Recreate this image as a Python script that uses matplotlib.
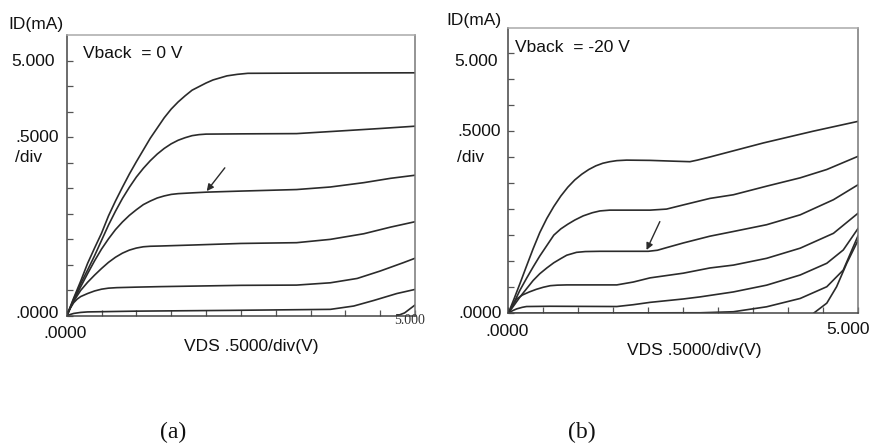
import numpy as np
import matplotlib
matplotlib.use("Agg")
import matplotlib.pyplot as plt

plt.rcParams['font.family'] = ['Liberation Sans', 'DejaVu Sans']

W, H = 872, 445

# ---------------- Panel (a): Vback = 0 V  (VDS in V, ID in mA) ----------------
a1_vds = [0, 0.1, 0.2, 0.3, 0.4, 0.5, 0.6, 0.7, 0.8, 0.9, 1.0, 1.1, 1.2, 1.3, 1.4, 1.5,
          1.6, 1.7, 1.8, 1.9, 2.0, 2.1, 2.2, 2.3, 2.45, 2.6, 3.5, 5.0]
a1_id  = [0, 0.35, 0.68, 1.03, 1.33, 1.62, 1.96, 2.25, 2.52, 2.78, 3.02, 3.25, 3.48, 3.68, 3.88, 4.05,
          4.19, 4.31, 4.42, 4.49, 4.56, 4.62, 4.66, 4.7, 4.73, 4.75, 4.755, 4.76]
a2_vds = [0, 0.1, 0.2, 0.3, 0.4, 0.5, 0.6, 0.7, 0.8, 0.9, 1.0, 1.1, 1.2, 1.3, 1.4, 1.5,
          1.6, 1.7, 1.8, 1.9, 2.0, 2.5, 3.3, 4.025, 4.5, 5.0]
a2_id  = [0, 0.33, 0.63, 0.9, 1.18, 1.48, 1.78, 2.05, 2.3, 2.52, 2.72, 2.89, 3.04, 3.17, 3.28, 3.37,
          3.44, 3.49, 3.53, 3.55, 3.56, 3.565, 3.57, 3.63, 3.67, 3.715]
a3_vds = [0, 0.1, 0.2, 0.3, 0.4, 0.5, 0.6, 0.7, 0.8, 0.9, 1.0, 1.1, 1.2, 1.3, 1.4, 1.5,
          1.6, 1.8, 2.02, 2.5, 3.3, 3.785, 4.265, 4.65, 5.0]
a3_id  = [0, 0.3, 0.57, 0.83, 1.08, 1.31, 1.51, 1.69, 1.84, 1.97, 2.08, 2.18, 2.25, 2.31, 2.35, 2.38,
          2.395, 2.41, 2.425, 2.445, 2.475, 2.525, 2.61, 2.695, 2.755]
a4_vds = [0, 0.05, 0.1, 0.2, 0.3, 0.4, 0.5, 0.6, 0.7, 0.8, 0.9, 1.0, 1.1, 1.2, 1.345,
          1.825, 2.5, 3.3, 3.785, 4.265, 4.65, 5.0]
a4_id  = [0, 0.16, 0.29, 0.5, 0.66, 0.8, 0.93, 1.05, 1.15, 1.23, 1.29, 1.33, 1.355, 1.365, 1.37,
          1.39, 1.42, 1.435, 1.5, 1.61, 1.74, 1.845]
a5_vds = [0, 0.05, 0.1, 0.15, 0.2, 0.3, 0.4, 0.5, 0.6, 0.72, 1.0, 1.345, 2.5, 3.3, 3.785,
          4.17, 4.5, 4.835, 5.0]
a5_id  = [0, 0.15, 0.26, 0.33, 0.38, 0.44, 0.49, 0.525, 0.545, 0.555, 0.565, 0.575, 0.6, 0.605, 0.65,
          0.735, 0.88, 1.045, 1.13]
a6_vds = [0, 0.05, 0.1, 0.2, 0.3, 1.0, 2.345, 3.785, 4.12, 4.41, 4.74, 5.0]
a6_id  = [0, 0.03, 0.05, 0.07, 0.08, 0.095, 0.11, 0.13, 0.195, 0.305, 0.44, 0.52]
a7_vds = [4.735, 4.85, 5.0]
a7_id  = [0, 0.06, 0.215]

# ---------------- Panel (b): Vback = -20 V ----------------
b1_vds = [0, 0.08, 0.165, 0.25, 0.355, 0.45, 0.55, 0.65, 0.75, 0.85, 0.95, 1.05, 1.15, 1.25,
          1.35, 1.45, 1.55, 1.69, 2.025, 2.355, 2.595, 2.7, 2.88, 3.645, 4.355, 5.0]
b1_id  = [0, 0.27, 0.565, 0.87, 1.24, 1.55, 1.82, 2.05, 2.25, 2.42, 2.56, 2.67, 2.76, 2.83,
          2.88, 2.91, 2.93, 2.94, 2.935, 2.92, 2.91, 2.94, 3.0, 3.27, 3.495, 3.685]
b2_vds = [0, 0.08, 0.165, 0.26, 0.355, 0.45, 0.55, 0.65, 0.75, 0.85, 0.95, 1.07, 1.2, 1.31,
          1.45, 2.025, 2.26, 2.5, 2.88, 3.215, 3.69, 4.17, 4.55, 5.0]
b2_id  = [0, 0.2, 0.44, 0.67, 0.89, 1.1, 1.3, 1.5, 1.62, 1.71, 1.79, 1.87, 1.93, 1.965,
          1.98, 1.98, 2.0, 2.08, 2.205, 2.275, 2.44, 2.6, 2.76, 3.015]
b3_vds = [0, 0.08, 0.165, 0.26, 0.355, 0.45, 0.55, 0.65, 0.75, 0.835, 0.975, 1.1, 1.31, 2.0,
          2.13, 2.26, 2.5, 2.88, 3.215, 3.69, 4.17, 4.645, 5.0]
b3_id  = [0, 0.15, 0.31, 0.47, 0.63, 0.76, 0.87, 0.97, 1.05, 1.115, 1.17, 1.185, 1.19, 1.19,
          1.21, 1.26, 1.35, 1.48, 1.57, 1.7, 1.89, 2.18, 2.47]
b4_vds = [0, 0.06, 0.12, 0.2, 0.3, 0.4, 0.5, 0.6, 0.7, 0.835, 1.55, 1.785, 2.025, 2.5, 2.88,
          3.215, 3.69, 4.17, 4.645, 5.0]
b4_id  = [0, 0.15, 0.275, 0.35, 0.41, 0.46, 0.5, 0.53, 0.54, 0.545, 0.545, 0.6, 0.68, 0.77, 0.87,
          0.925, 1.055, 1.25, 1.535, 1.925]
b5_vds = [0, 0.06, 0.12, 0.2, 0.26, 0.595, 1.55, 1.785, 2.025, 2.5, 2.74, 3.215, 3.69, 4.17,
          4.55, 4.785, 5.0]
b5_id  = [0, 0.05, 0.085, 0.115, 0.13, 0.135, 0.13, 0.165, 0.21, 0.275, 0.315, 0.41, 0.54, 0.735,
          0.96, 1.215, 1.635]
b6_vds = [0, 1.0, 2.5, 2.74, 3.215, 3.69, 4.17, 4.55, 4.785, 5.0]
b6_id  = [0, 0.005, 0.01, 0.01, 0.03, 0.125, 0.285, 0.51, 0.83, 1.5]
b7_vds = [4.36, 4.55, 4.69, 4.835, 5.0]
b7_id  = [0, 0.195, 0.51, 0.96, 1.41]

tick_vals = [0, 0.5, 1.0, 1.5, 2.0, 2.5, 3.0, 3.5, 4.0, 4.5, 5.0]

fig = plt.figure(figsize=(W / 100, H / 100), dpi=100)
fig.patch.set_facecolor('white')


def fpos(x, y):
    return x / W, 1 - y / H


def make_axes(left, top, right, bottom, ymax):
    ax = fig.add_axes([left / W, 1 - bottom / H, (right - left) / W, (bottom - top) / H])
    ax.set_xlim(0, 5.0)
    ax.set_ylim(0, ymax)
    ax.set_xticks(tick_vals)
    ax.set_yticks(tick_vals)
    ax.tick_params(direction='in', length=4, width=0.9, colors='#555',
                   labelbottom=False, labelleft=False, top=False, right=False)
    ax.spines['left'].set_color('#444')
    ax.spines['bottom'].set_color('#444')
    ax.spines['right'].set_color('#777')
    ax.spines['top'].set_color('#aaa')
    for s in ax.spines.values():
        s.set_linewidth(1.1)
    return ax


line_kw = dict(color='#2b2b2b', lw=1.2, solid_capstyle='round', solid_joinstyle='round')

ax_a = make_axes(66.7, 35, 415, 316, 5.5)
for xs, ys in [(a1_vds, a1_id), (a2_vds, a2_id), (a3_vds, a3_id), (a4_vds, a4_id),
               (a5_vds, a5_id), (a6_vds, a6_id), (a7_vds, a7_id)]:
    ax_a.plot(xs, ys, **line_kw)
ax_a.annotate('', xy=(2.01, 2.445), xytext=(2.27, 2.9),
              arrowprops=dict(arrowstyle='-|>', color='#2b2b2b', lw=1.0, mutation_scale=10,
                              shrinkA=0, shrinkB=0))

ax_b = make_axes(508.3, 28.3, 858.3, 313.3, 5.47)
for xs, ys in [(b1_vds, b1_id), (b2_vds, b2_id), (b3_vds, b3_id), (b4_vds, b4_id),
               (b5_vds, b5_id), (b6_vds, b6_id), (b7_vds, b7_id)]:
    ax_b.plot(xs, ys, **line_kw)
ax_b.annotate('', xy=(1.975, 1.215), xytext=(2.165, 1.76),
              arrowprops=dict(arrowstyle='-|>', color='#2b2b2b', lw=1.0, mutation_scale=10,
                              shrinkA=0, shrinkB=0))

fs = 12.5
tc = '#111'


def t(x, y, s, ha='left', size=fs, **kw):
    fig.text(*fpos(x, y), s, ha=ha, va='center', fontsize=size, color=tc, **kw)


# Panel (a) text
t(35.5, 25, 'ID(mA)', ha='center')
t(55, 62, '5.000', ha='right')
t(15, 137, '.5000')
t(15, 158, '/div')
t(15, 313, '.0000')
t(65, 333, '.0000', ha='center')
fig.text(*fpos(409.5, 320), '5.000', ha='center', va='center', fontsize=10,
         family='Liberation Serif', color='#333')
t(251, 347, 'VDS .5000/div(V)', ha='center')
t(83, 53, 'Vback  = 0 V')
fig.text(*fpos(173, 432), '(a)', ha='center', va='center', fontsize=17,
         family='Liberation Serif', color=tc)

# Panel (b) text
t(473.5, 20, 'ID(mA)', ha='center')
t(498, 62, '5.000', ha='right')
t(457, 132, '.5000')
t(457, 158, '/div')
t(458, 313, '.0000')
t(507, 332, '.0000', ha='center')
t(848.5, 329, '5.000', ha='center')
t(694, 350, 'VDS .5000/div(V)', ha='center')
t(515, 48, 'Vback  = -20 V')
fig.text(*fpos(582, 432), '(b)', ha='center', va='center', fontsize=17,
         family='Liberation Serif', color=tc)

fig.savefig('out.png', dpi=100, facecolor='white')
